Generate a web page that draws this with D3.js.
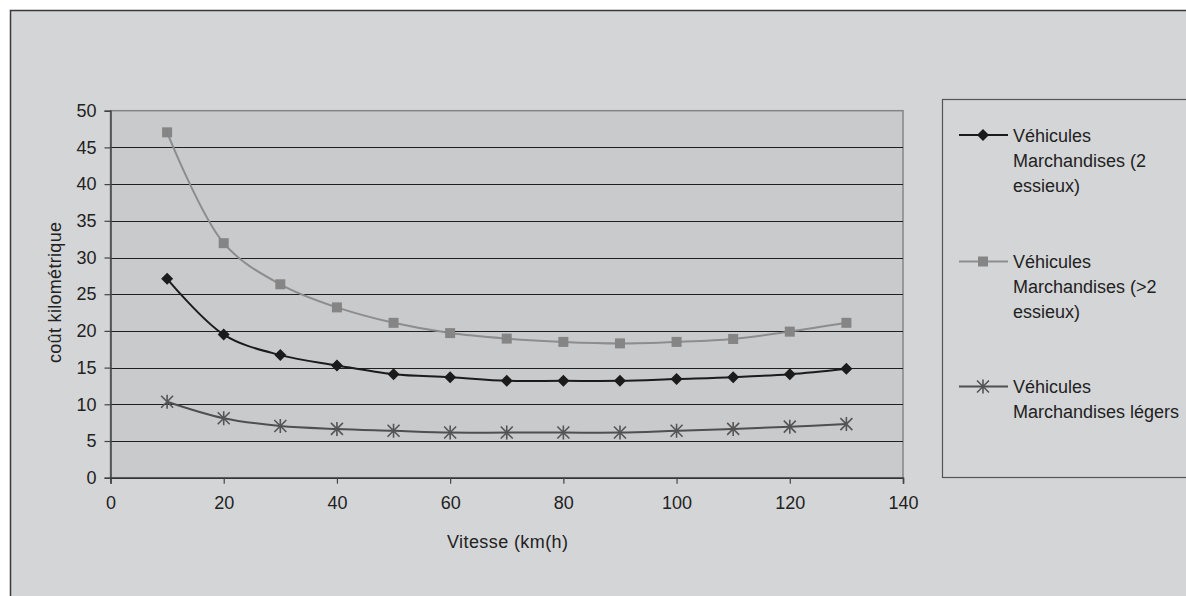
<!DOCTYPE html>
<html><head><meta charset="utf-8">
<script src="https://cdn.jsdelivr.net/npm/d3@7"></script>
<style>
html,body{margin:0;padding:0;background:#fff;}
svg{display:block;font-family:"Liberation Sans",Arial,sans-serif;}
</style></head>
<body>
<svg id="chart" width="1186" height="596"></svg>
<script>
const speeds = [10,20,30,40,50,60,70,80,90,100,110,120,130];
const vm2Essieux = [27.1,19.5,16.7,15.3,14.1,13.7,13.2,13.2,13.2,13.45,13.7,14.1,14.85];
const vmPlus2Essieux = [47.05,31.95,26.35,23.2,21.1,19.7,18.95,18.5,18.3,18.5,18.9,19.9,21.1];
const vmLegers = [10.35,8.1,7.05,6.65,6.4,6.15,6.15,6.15,6.15,6.4,6.65,6.95,7.3];
const yTicks = [0,5,10,15,20,25,30,35,40,45,50];
const xTicks = [0,20,40,60,80,100,120,140];
const seriesNames = [
  ["Véhicules","Marchandises (2","essieux)"],
  ["Véhicules","Marchandises (>2","essieux)"],
  ["Véhicules","Marchandises légers"]
];
const xTitle = "Vitesse (km(h)";
const yTitle = "coût kilométrique";

const svg = d3.select("#chart");
const L = 110.5, R = 903, T = 110.7, B = 477.7;
const x = d3.scaleLinear().domain([0,140]).range([L,R]);
const y = d3.scaleLinear().domain([0,50]).range([B,T]);

// chart area
svg.append("rect").attr("x",10.5).attr("y",10.5).attr("width",1200).attr("height",620)
  .attr("fill","#d4d5d7").attr("stroke","#3a3a3a").attr("stroke-width",1.5);
// plot area
svg.append("rect").attr("x",L).attr("y",T).attr("width",R-L).attr("height",B-T)
  .attr("fill","#c9cacc").attr("stroke","#858585").attr("stroke-width",1.5);

// gridlines
svg.append("g").selectAll("line").data(yTicks.filter(v=>v>0 && v<50)).join("line")
  .attr("x1",L).attr("x2",R).attr("y1",d=>Math.round(y(d))+0.5).attr("y2",d=>Math.round(y(d))+0.5)
  .attr("stroke","#1f1f1f").attr("stroke-width",1.2);

// y axis
const yAxis = svg.append("g").attr("transform",`translate(${L},0)`)
  .call(d3.axisLeft(y).tickValues(yTicks).tickSize(6).tickPadding(8));
yAxis.select(".domain").attr("stroke","#444").attr("stroke-width",1.5);
yAxis.selectAll(".tick line").attr("stroke","#444").attr("stroke-width",1.2);
yAxis.selectAll("text").attr("font-size",18).attr("fill","#222").attr("font-family","Liberation Sans, Arial, sans-serif");

// x axis
const xAxis = svg.append("g").attr("transform",`translate(0,${B})`)
  .call(d3.axisBottom(x).tickValues(xTicks).tickSize(6).tickPadding(13));
xAxis.select(".domain").attr("stroke","#333").attr("stroke-width",1.5);
xAxis.selectAll(".tick line").attr("stroke","#444").attr("stroke-width",1.2);
xAxis.selectAll("text").attr("font-size",18).attr("fill","#222").attr("font-family","Liberation Sans, Arial, sans-serif");

// titles
svg.append("text").attr("x",507.5).attr("y",548).attr("text-anchor","middle")
  .attr("font-size",18).attr("fill","#222").attr("textLength",121).attr("lengthAdjust","spacing").text(xTitle);
svg.append("text").attr("transform","translate(61,292.5) rotate(-90)").attr("text-anchor","middle")
  .attr("font-size",18).attr("fill","#222").attr("textLength",141).attr("lengthAdjust","spacing").text(yTitle);

const line = d3.line().curve(d3.curveCatmullRom.alpha(0.5)).x(d=>x(d[0])).y(d=>y(d[1]));
const series = [
  {vals: vm2Essieux, color:"#1b1b1b", mcolor:"#1b1b1b", marker:"diamond"},
  {vals: vmPlus2Essieux, color:"#8d8d8d", mcolor:"#858585", marker:"square"},
  {vals: vmLegers, color:"#4f4f4f", mcolor:"#555", marker:"star"}
];

function drawMarker(g, type, cx, cy, color){
  if(type==="diamond"){
    g.append("path").attr("d",`M${cx},${cy-6}L${cx+6},${cy}L${cx},${cy+6}L${cx-6},${cy}Z`).attr("fill",color);
  } else if(type==="square"){
    g.append("rect").attr("x",cx-5).attr("y",cy-5).attr("width",10).attr("height",10).attr("fill",color);
  } else {
    const s=6;
    g.append("path").attr("d",`M${cx-s},${cy-s}L${cx+s},${cy+s}M${cx-s},${cy+s}L${cx+s},${cy-s}M${cx},${cy-s-1}L${cx},${cy+s+1}`)
      .attr("stroke",color).attr("stroke-width",1.6).attr("fill","none");
  }
}

series.forEach(s=>{
  const pts = speeds.map((v,i)=>[v,s.vals[i]]);
  svg.append("path").datum(pts).attr("d",line).attr("fill","none")
    .attr("stroke",s.color).attr("stroke-width",2);
  const g = svg.append("g");
  pts.forEach(p=>drawMarker(g,s.marker,x(p[0]),y(p[1]),s.mcolor));
});

// legend
svg.append("rect").attr("x",942.5).attr("y",99.5).attr("width",300).attr("height",378)
  .attr("fill","#d4d5d7").attr("stroke","#555").attr("stroke-width",1.2);
const legTop = [135, 261.5, 386.5];
series.forEach((s,i)=>{
  const g = svg.append("g");
  const ly = legTop[i];
  g.append("line").attr("x1",959).attr("x2",1008).attr("y1",ly).attr("y2",ly)
    .attr("stroke",s.color).attr("stroke-width",2);
  drawMarker(g,s.marker,983,ly,s.mcolor);
  seriesNames[i].forEach((t,j)=>{
    g.append("text").attr("x",1013).attr("y",ly+6.5+j*25).attr("font-size",18).attr("fill","#222").text(t);
  });
});
</script>
</body></html>
